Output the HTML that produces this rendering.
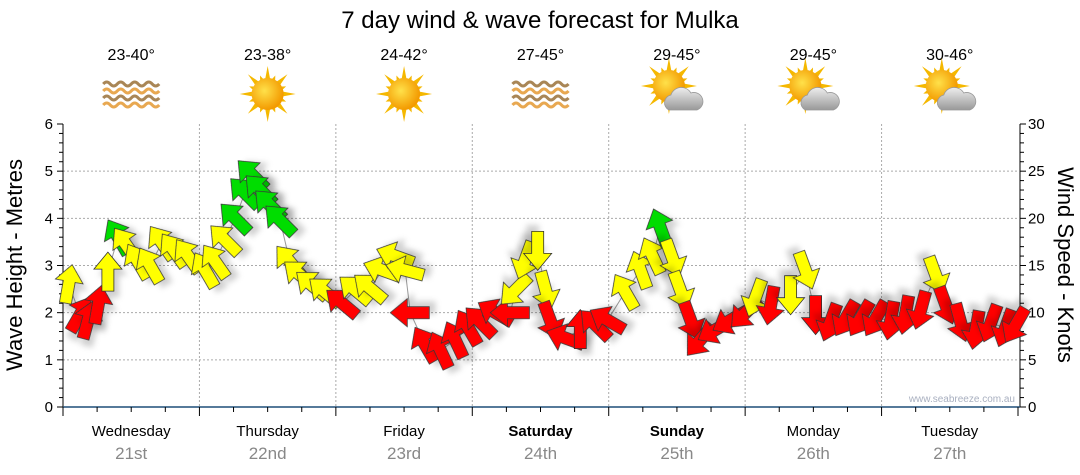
<!DOCTYPE html>
<html><head><meta charset="utf-8">
<style>
html,body{margin:0;padding:0;background:#fff;}
svg{display:block;font-family:"Liberation Sans",sans-serif;}
</style></head>
<body>
<svg id="chart" width="1080" height="475" viewBox="0 0 1080 475" xmlns="http://www.w3.org/2000/svg">
<defs>
<filter id="sh" x="-50%" y="-50%" width="200%" height="200%"><feDropShadow dx="5" dy="6" stdDeviation="3" flood-color="#000" flood-opacity="0.18"/></filter>
<radialGradient id="sunG" cx="40%" cy="40%" r="60%"><stop offset="0" stop-color="#ffe14a"/><stop offset="1" stop-color="#f39a00"/></radialGradient>
<linearGradient id="cloudG" x1="0" y1="0" x2="0" y2="1"><stop offset="0" stop-color="#eee"/><stop offset="1" stop-color="#999"/></linearGradient>
</defs>
<text x="540" y="28" text-anchor="middle" font-size="24" fill="#000">7 day wind &amp; wave forecast for Mulka</text>
<g id="header"></g>
<g id="grid"></g>
<g id="axes"></g>
<g id="series"></g>
<text transform="translate(22,265) rotate(-90)" text-anchor="middle" font-size="22" fill="#000">Wave Height - Metres</text>
<text transform="translate(1058,265) rotate(90)" text-anchor="middle" font-size="22" fill="#000">Wind Speed - Knots</text>
<text x="1015" y="402" text-anchor="end" font-size="10" fill="#a9b0c0">www.seabreeze.com.au</text>
</svg>
<script>
const days = ["Wednesday","Thursday","Friday","Saturday","Sunday","Monday","Tuesday"];
const dates = ["21st","22nd","23rd","24th","25th","26th","27th"];
const temps = ["23-40°","23-38°","24-42°","27-45°","29-45°","29-45°","30-46°"];
const icons = ["waves","sun","sun","waves","partly","partly","partly"];
const boldDays = [false,false,false,true,true,false,false];
const waveTicks = [0,1,2,3,4,5,6];
const windTicks = [0,5,10,15,20,25,30];
const hours = [1,3,4.4,6.2,7.9,9.7,11.1,13.2,15.3,17.4,19.5,22,25,26.8,28.5,30.3,32,33.3,34.7,36.4,38.2,39.9,41.7,43.8,46.1,49.1,51.4,54,56.2,58.5,60.2,61.1,63.7,66.4,69,71.3,73.4,76.1,78.7,79.6,81.3,83.5,84.9,85.7,88.4,91,93.7,95.8,98.9,101.6,103.7,105.1,107.2,108.6,110.4,112.1,114.8,117.4,120.1,121.8,124.5,128,130.6,132.4,135,137.7,140.3,143,145.6,148.2,150.9,153.5,155.3,157.9,160.6,163.2,165.8,167.6];
const windKn = [13,9.8,9.2,10.8,14.3,18,17.2,15.4,15,17.4,16.6,16,14.5,15.4,17.7,20,22.7,24.6,23,21.4,19.8,15.4,14,12.9,12.2,11,12.4,12.6,14.5,16,14.5,10,6.6,6,7.1,8.4,9,10,10,12.4,15.6,16.6,12.4,9.2,7.3,8.2,8.7,9.2,12.2,14.5,16,19,15.8,12.4,9.2,7.1,8.2,9.2,10,11.6,10.8,11.9,14.5,9.8,9,9.4,9.4,9.4,9.2,9.8,10.3,14,10.8,9,8.2,8.9,8.4,8.7];
const dirDeg = [10,30,15,10,0,-30,-35,-30,-30,-35,-35,-35,-30,-35,-45,-45,-45,-45,-45,-45,-45,-40,-50,-50,-50,-50,-50,-50,-70,-70,-75,-90,-30,-25,-25,-30,-45,-60,-90,225,200,180,165,160,-70,0,-45,-60,-30,-20,-25,-20,160,160,160,220,240,240,225,200,190,180,160,180,200,210,210,210,190,190,195,160,160,165,190,200,200,210];
const colorCat = ["y","r","r","r","y","g","y","y","y","y","y","y","y","y","y","g","g","g","g","g","g","y","y","y","y","r","y","y","y","y","y","r","r","r","r","r","r","r","r","y","y","y","y","r","r","r","r","r","y","y","y","g","y","y","r","r","r","r","r","y","r","y","y","r","r","r","r","r","r","r","r","y","r","r","r","r","r","r"];

const NS="http://www.w3.org/2000/svg";
const L=63,R=1018,T=124,B=407;
const xT=h=>L+h*(R-L)/168;
const yW=m=>B-m*(B-T)/6;
const yK=k=>B-k*(B-T)/30;
function mk(tag,attrs,parent){const e=document.createElementNS(NS,tag);for(const k in attrs)e.setAttribute(k,attrs[k]);parent.appendChild(e);return e;}
const header=document.getElementById('header'),grid=document.getElementById('grid'),axes=document.getElementById('axes'),series=document.getElementById('series');

days.forEach((d,i)=>{
  const cx=xT(i*24+12);
  const t=mk('text',{x:cx,y:60,'text-anchor':'middle','font-size':16,fill:'#000'},header);
  t.textContent=temps[i];
  
  
  const g=mk('g',{transform:`translate(${cx},94)`},header);
  
  
  if(icons[i]==='waves'){
    for(let r=0;r<4;r++){
      let path='M-28,'+(-10+r*7);for(let s=0;s<4;s++)path+=' q3.5,-4 7,0 q3.5,4 7,0';
      mk('path',{d:path,fill:'none',stroke:r%2?'#e8a851':'#a98656','stroke-width':3},g);
    }
  } else {
    const p=icons[i]==='partly';
    const sx=p?-8:0, sy=p?-8:0;
    for(let a=0;a<16;a++){
      const ang=a*Math.PI/8, len=a%2?20:28;
      const px=Math.cos(ang),py=Math.sin(ang);
      mk('path',{d:`M${sx+px*len},${sy+py*len} L${sx+(-py)*3+px*12},${sy+px*3+py*12} L${sx+py*3+px*12},${sy-px*3+py*12} Z`,fill:'#f5b800'},g);
    }
    mk('circle',{cx:sx,cy:sy,r:16,fill:'url(#sunG)'},g);
    if(p){
      mk('path',{d:'M-8,16 a8,8 0 0 1 2,-15 a11,11 0 0 1 20,-2 a8,8 0 0 1 6,17 Z',fill:'url(#cloudG)',stroke:'#999','stroke-width':0.8},g);
    }
  }
});

waveTicks.forEach(m=>{if(m>0&&m<6){const l=mk('line',{x1:L,x2:R,y1:yW(m),y2:yW(m),stroke:'#aaa','stroke-dasharray':'2,2','stroke-width':1},grid);}});
for(let d=1;d<7;d++){const l=mk('line',{x1:xT(d*24),x2:xT(d*24),y1:T,y2:B,stroke:'#aaa','stroke-dasharray':'2,2','stroke-width':1},grid);}

mk('line',{x1:L,x2:L,y1:T,y2:B,stroke:'#000','stroke-width':1},axes);
mk('line',{x1:R+2,x2:R+2,y1:T,y2:B,stroke:'#000','stroke-width':1},axes);
for(let m=0;m<=6.001;m+=0.2){const big=Math.abs(m-Math.round(m))<0.01;mk('line',{x1:L-(big?6:4),x2:L,y1:yW(m),y2:yW(m),stroke:'#000'},axes);}
waveTicks.forEach(m=>{const t=mk('text',{x:L-10,y:yW(m)+5,'text-anchor':'end','font-size':15,fill:'#000'},axes);t.textContent=m;});
for(let k=0;k<=30;k++){const big=k%5===0;mk('line',{x1:R+2,x2:R+2+(big?6:4),y1:yK(k),y2:yK(k),stroke:'#000'},axes);}
windTicks.forEach(k=>{const t=mk('text',{x:R+10,y:yK(k)+5,'text-anchor':'start','font-size':15,fill:'#000'},axes);t.textContent=k;});
mk('line',{x1:L,x2:R+2,y1:B,y2:B,stroke:'#1f4e79','stroke-width':1.5},axes);
for(let h=0;h<=168;h+=6){const big=h%24===0;mk('line',{x1:xT(h),x2:xT(h),y1:B,y2:B+(big?9:5),stroke:'#000'},axes);}
days.forEach((d,i)=>{
  const cx=xT(i*24+12);
  const t=mk('text',{x:cx,y:436,'text-anchor':'middle','font-size':15,fill:'#000','font-weight':boldDays[i]?'bold':'normal'},axes);
  t.textContent=d;
  const s=mk('text',{x:cx,y:459,'text-anchor':'middle','font-size':17,fill:'#888'},axes);
  s.textContent=dates[i];
});

let pts=hours.map((h,i)=>xT(h).toFixed(1)+','+yK(windKn[i]).toFixed(1)).join(' ');
const line=mk('polyline',{points:pts,fill:'none',stroke:'#999','stroke-width':1},series);


const cols={r:'#ff0000',y:'#ffff00',g:'#00dd00'};
const arrowD='M0,-20 L14,-3 L6,-3 L6,19 L-6,19 L-6,-3 L-14,-3 Z';
hours.forEach((h,i)=>{
  const p=mk('path',{d:arrowD,fill:cols[colorCat[i]],stroke:'#333','stroke-width':0.8,filter:'url(#sh)',transform:`translate(${xT(h).toFixed(1)},${yK(windKn[i]).toFixed(1)}) rotate(${dirDeg[i]})`},series);
  
  
});
</script>
</body></html>
